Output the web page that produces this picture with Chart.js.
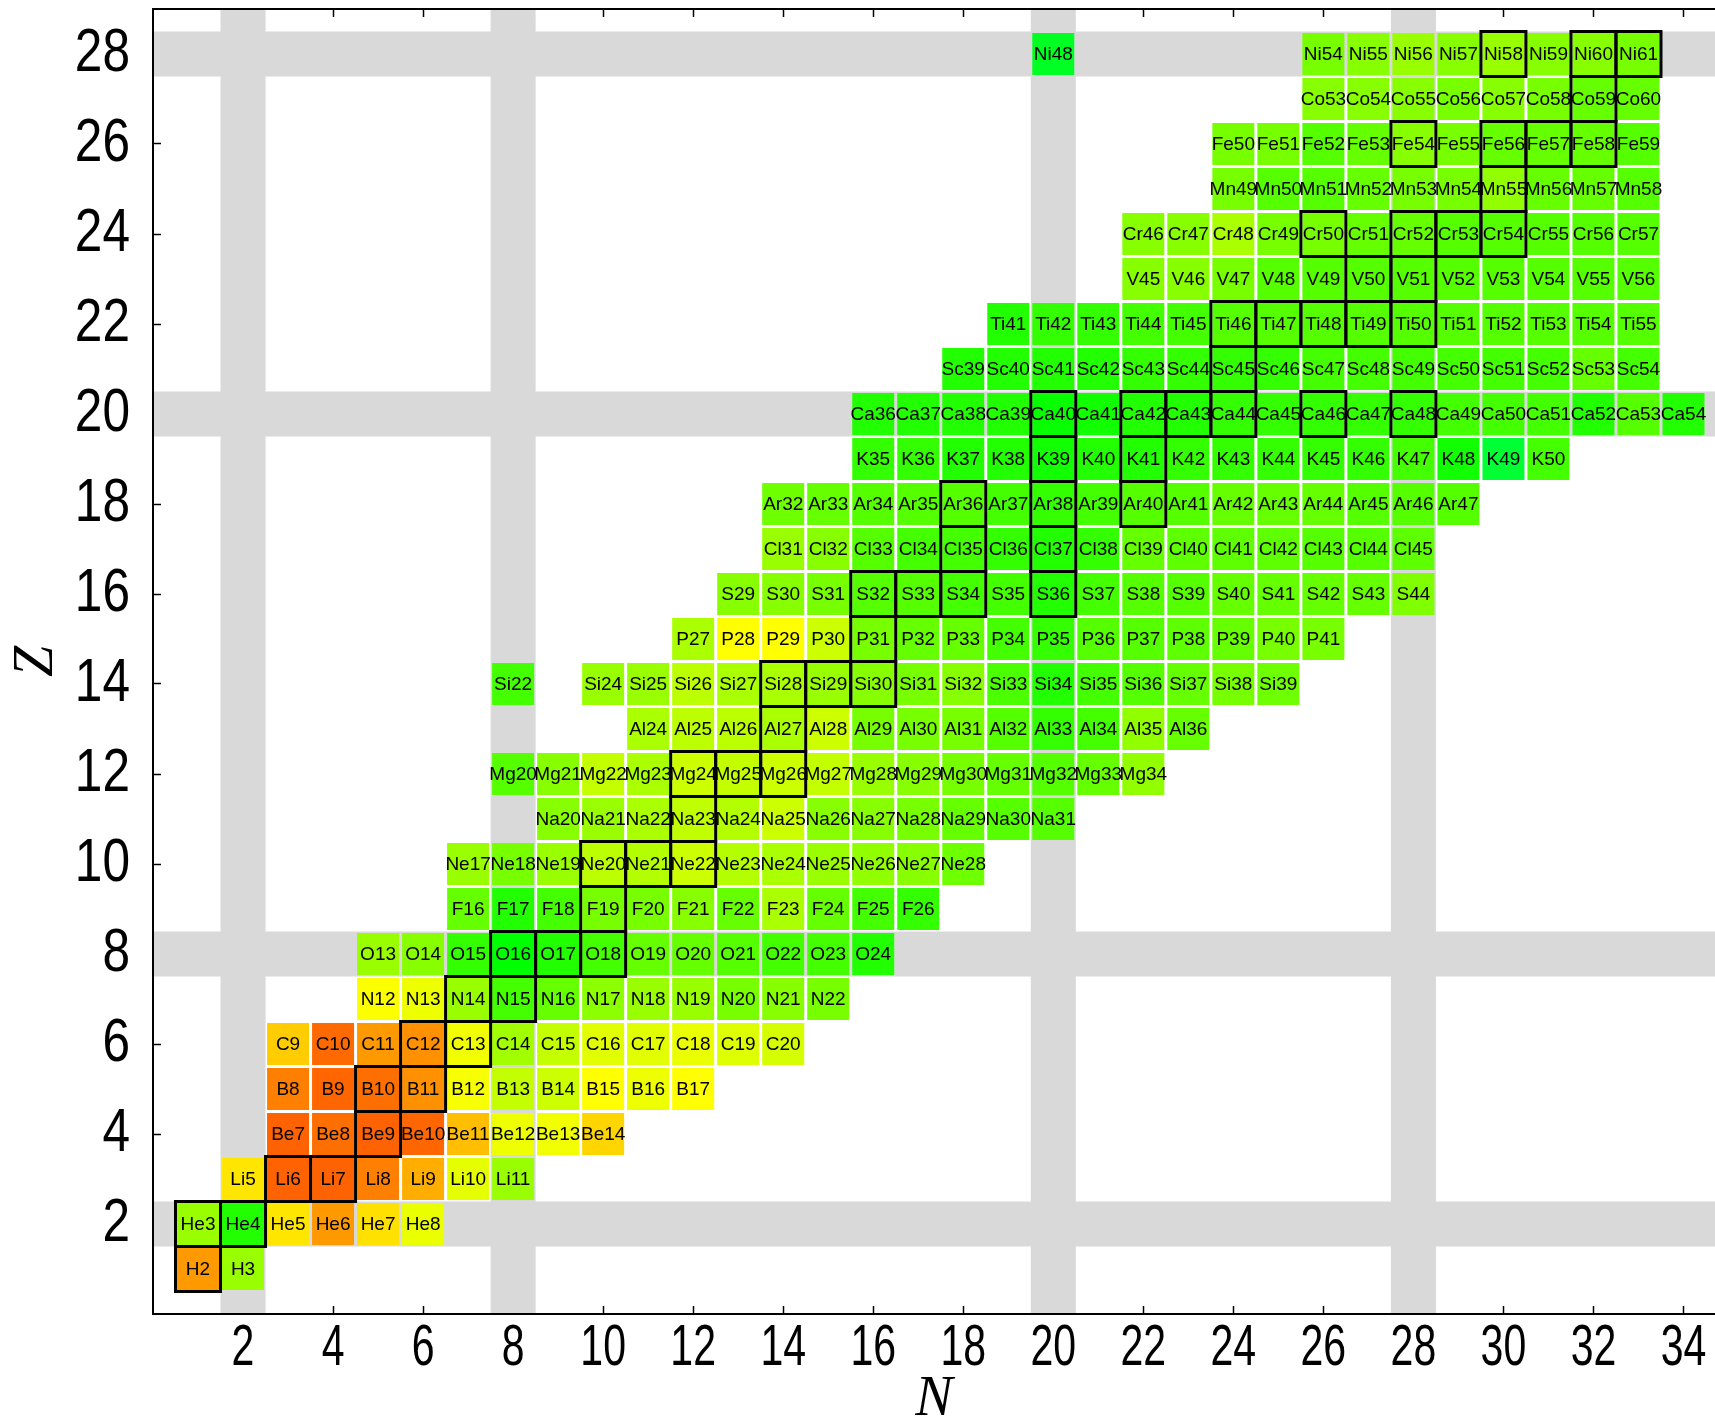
<!DOCTYPE html>
<html>
<head>
<meta charset="utf-8">
<title>Nuclide chart</title>
<script src="https://cdn.jsdelivr.net/npm/chart.js@4.4.1/dist/chart.umd.min.js"></script>
<style>
	html, body { margin: 0; padding: 0; background: #fff; }
	canvas { display: block; }
</style>
</head>
<body>
<canvas id="chart" width="1715" height="1420"></canvas>
<script>
// element symbol for Z = 1 .. 28
const SYMBOLS = ["H", "He", "Li", "Be", "B", "C", "N", "O", "F", "Ne", "Na", "Mg", "Al", "Si",
	"P", "S", "Cl", "Ar", "K", "Ca", "Sc", "Ti", "V", "Cr", "Mn", "Fe", "Co", "Ni"];

// neutron number of the first cell in each row
const FIRST_N = [1, 1, 2, 3, 3, 3, 5, 5, 7, 7, 9, 8, 11, 8, 12, 13, 14, 14, 16, 16, 18, 19, 22, 22, 24, 24, 26, 20];

// colour level of each cell along a row (0 = red-orange, 100 = green), null = no cell
const LEVELS = [
	[16, 64],                                                                   // H
	[64, 92, 34, 16, 33, 45],                                                   // He
	[34, 3, 3, 10, 21, 46, 64],                                                 // Li
	[3, 6, 3, 4, 25, 44, 43, 30],                                               // Be
	[10, 4, 6, 14, 42, 54, 52, 40, 44, 40],                                     // B
	[28, 5, 16, 14, 43, 62, 54, 47, 47, 45, 48, 50],                            // C
	[41, 44, 64, 84, 76, 67, 64, 64, 72, 68, 72],                               // N
	[64, 68, 88, 100, 92, 84, 76, 76, 80, 84, 84, 92],                          // O
	[76, 92, 84, 72, 72, 68, 76, 60, 76, 84, 88],                               // F
	[64, 72, 64, 56, 58, 52, 58, 60, 64, 66, 68, 74],                           // Ne
	[68, 64, 60, 55, 58, 52, 68, 68, 72, 76, 80, 80],                           // Na
	[80, 68, 54, 60, 52, 54, 52, 54, 64, 68, 72, 76, 80, 76, 66],               // Mg
	[60, 56, 56, 60, 52, 72, 72, 72, 80, 88, 84, 66, 76],                       // Al
	[84, null, 64, 64, 56, 60, 60, 64, 68, 72, 68, 82, 92, 84, 80, 76, 72, 74], // Si
	[60, 40, 40, 52, 72, 76, 76, 84, 88, 80, 80, 78, 76, 72, 72],               // P
	[68, 68, 72, 80, 80, 84, 84, 92, 84, 80, 80, 76, 76, 76, 76, 70],           // S
	[64, 68, 80, 84, 84, 88, 92, 88, 76, 78, 78, 78, 80, 80, 78],               // Cl
	[74, 76, 80, 80, 80, 84, 88, 84, 80, 80, 76, 76, 76, 80, 80, 80],           // Ar
	[88, 88, 92, 92, 96, 92, 92, 88, 88, 88, 88, 88, 84, 96, 112, 84],          // K
	[92, 92, 92, 92, 98, 96, 92, 92, 88, 88, 88, 88, 88, 84, 84, 84, 92, 80, 92], // Ca
	[92, 92, 92, 92, 88, 88, 88, 88, 84, 84, 84, 84, 84, 84, 76, 84],           // Sc
	[92, 88, 88, 84, 84, 80, 80, 80, 80, 80, 80, 80, 80, 80, 80],               // Ti
	[68, 68, 72, 80, 80, 80, 80, 80, 80, 80, 80, 80],                           // V
	[68, 68, 60, 72, 72, 76, 76, 80, 80, 80, 80, 80],                           // Cr
	[72, 80, 80, 76, 72, 72, 66, 76, 76, 80],                                   // Mn
	[72, 72, 80, 76, 68, 72, 76, 76, 76, 80],                                   // Fe
	[68, 68, 68, 72, 68, 72, 76, 76],                                           // Co
	[108, null, null, null, null, null, 72, 68, 64, 68, 64, 68, 68, 72]         // Ni
];

// mass numbers of the stable isotopes, outlined in black
const STABLE_A = [[2], [3, 4], [6, 7], [9], [10, 11], [12, 13], [14, 15], [16, 17, 18], [19],
	[20, 21, 22], [23], [24, 25, 26], [27], [28, 29, 30], [31], [32, 33, 34, 36], [35, 37],
	[36, 38, 40], [39, 41], [40, 42, 43, 44, 46, 48], [45], [46, 47, 48, 49, 50], [50, 51],
	[50, 52, 53, 54], [55], [54, 56, 57, 58], [59], [58, 60, 61]];

// shell closures shaded across the chart
const MAGIC = [2, 8, 20, 28];

const N_TICKS = [2, 4, 6, 8, 10, 12, 14, 16, 18, 20, 22, 24, 26, 28, 30, 32, 34];
const Z_TICKS = [2, 4, 6, 8, 10, 12, 14, 16, 18, 20, 22, 24, 26, 28];

const CELL_GAP = 3;
const BAND_COLOR = "#d9d9d9";

function levelColor(v) {
	return `hsl(${20 + v}, 100%, 50%)`;
}

function buildCells() {
	const cells = [];
	LEVELS.forEach((row, i) => {
		const z = i + 1;
		row.forEach((level, j) => {
			if (level === null) return;
			const n = FIRST_N[i] + j;
			cells.push({ x: n, y: z, level, label: SYMBOLS[i] + (n + z) });
		});
	});
	return cells;
}

function buildStable() {
	const out = [];
	STABLE_A.forEach((list, i) => list.forEach(a => out.push({ x: a - (i + 1), y: i + 1 })));
	return out;
}

function unitPx(chart) {
	const x = chart.scales.x;
	return x.getPixelForValue(1) - x.getPixelForValue(0);
}

// condensed text, the tick numbers are narrow
function squeezedText(ctx, text, x, y, align, squeeze) {
	ctx.save();
	ctx.translate(x, y);
	ctx.scale(squeeze, 1);
	ctx.textAlign = align;
	ctx.fillText(text, 0, 0);
	ctx.restore();
}

const cells = buildCells();
const stable = buildStable();

const magicBands = {
	id: "magicBands",
	beforeDatasetsDraw(chart) {
		const { ctx, chartArea: a, scales: { x, y } } = chart;
		ctx.save();
		ctx.beginPath();
		ctx.rect(a.left + 1, a.top + 1, a.right - a.left - 1, a.bottom - a.top - 2);
		ctx.clip();
		ctx.fillStyle = BAND_COLOR;
		MAGIC.forEach(m => {
			const x0 = x.getPixelForValue(m - 0.5), x1 = x.getPixelForValue(m + 0.5);
			ctx.fillRect(x0, a.top, x1 - x0, a.bottom - a.top);
			const y0 = y.getPixelForValue(m + 0.5), y1 = y.getPixelForValue(m - 0.5);
			ctx.fillRect(a.left, y0, a.right - a.left, y1 - y0);
		});
		ctx.restore();
	}
};

const cellLabels = {
	id: "cellLabels",
	afterDatasetsDraw(chart) {
		const ctx = chart.ctx;
		const meta = chart.getDatasetMeta(1);
		ctx.save();
		ctx.font = "19px 'Liberation Sans', Arial, sans-serif";
		ctx.fillStyle = "#000";
		ctx.textAlign = "center";
		ctx.textBaseline = "middle";
		meta.data.forEach((pt, i) => ctx.fillText(cells[i].label, pt.x, pt.y + 1));
		ctx.restore();
	}
};

const tickNumbers = {
	id: "tickNumbers",
	afterDraw(chart) {
		const { ctx, scales: { x, y } } = chart;
		ctx.save();
		ctx.fillStyle = "#000";
		ctx.textBaseline = "middle";
		ctx.font = "57px 'Liberation Sans', Arial, sans-serif";
		x.ticks.forEach(t => squeezedText(ctx, String(t.value), x.getPixelForValue(t.value), x.top + 35, "center", 0.72));
		ctx.font = "62px 'Liberation Sans', Arial, sans-serif";
		y.ticks.forEach(t => squeezedText(ctx, String(t.value), y.right - 23, y.getPixelForValue(t.value), "right", 0.8));
		ctx.restore();
	}
};

const titleFont = { family: "'Liberation Serif', 'Times New Roman', serif", style: "italic", size: 56, lineHeight: 0.7 };
const frameGrid = { drawOnChartArea: false, tickLength: -8, tickColor: "#000", tickWidth: 1.5 };
const frameBorder = { color: "#000", width: 2 };

new Chart(document.getElementById("chart"), {
	type: "scatter",
	data: {
		datasets: [
			{
				data: stable,
				order: 0,
				pointStyle: "rect",
				pointRadius: ctx => unitPx(ctx.chart) / Math.SQRT2,
				pointHoverRadius: ctx => unitPx(ctx.chart) / Math.SQRT2,
				pointBackgroundColor: "rgba(0, 0, 0, 0)",
				pointBorderColor: "#000",
				pointBorderWidth: 3,
				pointHoverBorderWidth: 3
			},
			{
				data: cells,
				order: 1,
				pointStyle: "rect",
				pointRadius: ctx => (unitPx(ctx.chart) - CELL_GAP) / Math.SQRT2,
				pointHoverRadius: ctx => (unitPx(ctx.chart) - CELL_GAP) / Math.SQRT2,
				pointBackgroundColor: ctx => ctx.raw ? levelColor(ctx.raw.level) : "#fff",
				pointBorderWidth: 0,
				pointHoverBorderWidth: 0
			}
		]
	},
	options: {
		responsive: false,
		animation: false,
		devicePixelRatio: 1,
		events: [],
		layout: { autoPadding: false, padding: { top: 9, right: 0, bottom: 0, left: 0 } },
		plugins: {
			legend: { display: false },
			tooltip: { enabled: false }
		},
		scales: {
			x: {
				type: "linear",
				position: "bottom",
				min: 0,
				max: 34.7,
				afterBuildTicks: s => { s.ticks = N_TICKS.map(value => ({ value })); },
				afterFit: s => { s.height = 106; },
				ticks: { display: false },
				grid: frameGrid,
				border: frameBorder,
				title: { display: true, text: "N", color: "#000", padding: 0, font: titleFont }
			},
			xTop: {
				type: "linear",
				axis: "x",
				position: "top",
				min: 0,
				max: 34.7,
				afterBuildTicks: s => { s.ticks = N_TICKS.map(value => ({ value })); },
				afterFit: s => { s.height = 0; },
				ticks: { display: false },
				grid: frameGrid,
				border: frameBorder
			},
			y: {
				type: "linear",
				position: "left",
				min: 0,
				max: 29,
				afterBuildTicks: s => { s.ticks = Z_TICKS.map(value => ({ value })); },
				afterFit: s => { s.width = 153; },
				ticks: { display: false },
				grid: frameGrid,
				border: frameBorder,
				title: { display: true, text: "Z", color: "#000", padding: { top: 18, bottom: 0 }, font: titleFont }
			}
		}
	},
	plugins: [magicBands, cellLabels, tickNumbers]
});
</script>
</body>
</html>
